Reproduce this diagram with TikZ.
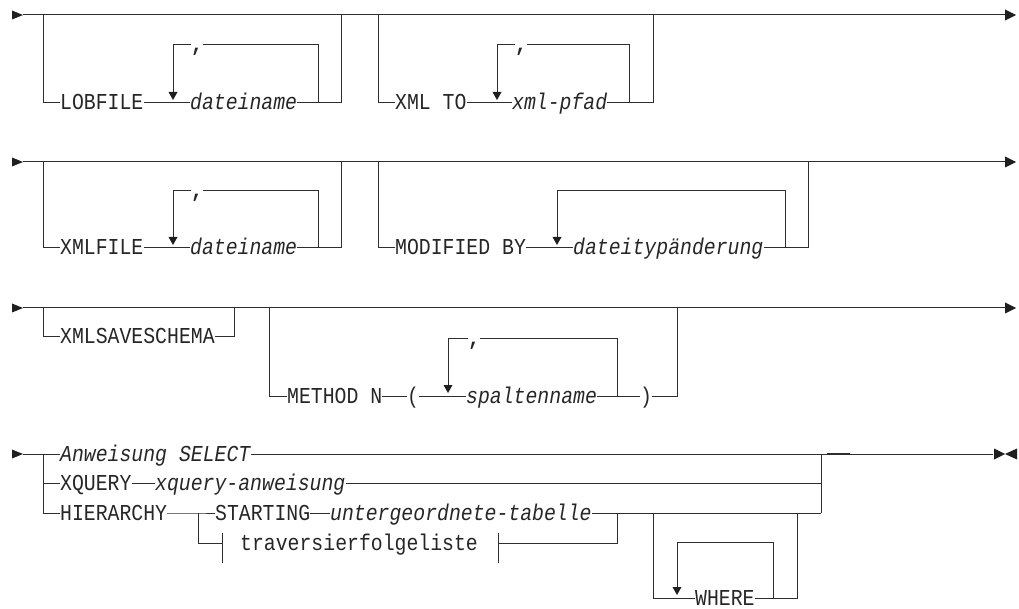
\documentclass[tikz,border=0pt]{standalone}
\usepackage{fontspec}
\setmonofont[FakeStretch=0.87]{Liberation Mono}
\newcommand\rrfont{\ttfamily\fontsize{22.76}{24}\selectfont}
\tikzset{
  rr/.style={line width=1pt, draw=black!82},
  thk/.style={line width=2pt, draw=black!82},
  tri/.style={fill=black!88},
  lbl/.style={inner sep=0pt, text height=14pt, text depth=0pt, anchor=west, text=black!85, font=\rrfont},
  var/.style={lbl, font=\rrfont\itshape},
  sepc/.style={lbl, anchor=center, font=\rrfont\bfseries},
}
% right-pointing start arrow, tip at (#1,#2)
\newcommand\rrstart[2]{\fill[tri] (#1,#2) -- ++(-11,-4.5) -- ++(0,9) -- cycle;}
% right-pointing end arrow
\newcommand\rrend[2]{\fill[tri] (#1,#2) -- ++(-11,-5.5) -- ++(0,11) -- cycle;}
% down-pointing repeat arrow, tip at (#1,#2)
\newcommand\rrdown[2]{\fill[tri] (#1,#2) -- ++(-4.5,-8) -- ++(9,0) -- cycle;}
\begin{document}
\begin{tikzpicture}[x=1pt,y=-1pt]
\useasboundingbox (0,0) rectangle (1019,609);

% ---------------- Row 1 ----------------
\rrstart{23}{15}
\draw[rr] (23,15) -- (1005,15);
\rrend{1016}{15}
\node[lbl] (lob) at (60,103) {LOBFILE};
\node[var] (dn1) at (190,103) {dateiname};
\node[sepc] (c1) at (197,45) {,};
\draw[rr] (43,15) |- (lob.west);
\draw[rr] (lob.east) -- (dn1.west);
\draw[rr] (dn1.east) -- (341,103) -- (341,15);
\draw[rr] (318,103) -- (318,45) -- (c1.east);
\draw[rr] (c1.west) -- (173,45) -- (173,92);
\rrdown{173}{100}
\node[lbl] (xt) at (395,103) {XML TO};
\node[var] (xp) at (512,103) {xml-pfad};
\node[sepc] (c2) at (521,45) {,};
\draw[rr] (378,15) |- (xt.west);
\draw[rr] (xt.east) -- (xp.west);
\draw[rr] (xp.east) -- (653,103) -- (653,15);
\draw[rr] (629,103) -- (629,45) -- (c2.east);
\draw[rr] (c2.west) -- (497,45) -- (497,92);
\rrdown{497}{100}

% ---------------- Row 2 ----------------
\rrstart{23}{162}
\draw[rr] (23,162) -- (1005,162);
\rrend{1016}{162}
\node[lbl] (xf) at (60,248) {XMLFILE};
\node[var] (dn2) at (190,248) {dateiname};
\node[sepc] (c3) at (197,191) {,};
\draw[rr] (43,162) |- (xf.west);
\draw[rr] (xf.east) -- (dn2.west);
\draw[rr] (dn2.east) -- (341,248) -- (341,162);
\draw[rr] (318,248) -- (318,191) -- (c3.east);
\draw[rr] (c3.west) -- (173,191) -- (173,237);
\rrdown{173}{245}
\node[lbl] (mb) at (395,248) {MODIFIED BY};
\node[var] (dt) at (573,248) {dateitypänderung};
\draw[rr] (378,162) |- (mb.west);
\draw[rr] (mb.east) -- (dt.west);
\draw[rr] (dt.east) -- (808,248) -- (808,162);
\draw[rr] (785,248) -- (785,191) -- (557,191) -- (557,237);
\rrdown{557}{245}

% ---------------- Row 3 ----------------
\rrstart{23}{308}
\draw[rr] (23,308) -- (1005,308);
\rrend{1016}{308}
\node[lbl] (xs) at (60,336) {XMLSAVESCHEMA};
\draw[rr] (43,308) |- (xs.west);
\draw[rr] (xs.east) -- (234,336) -- (234,308);
\node[lbl] (mn) at (287,396) {METHOD N};
\node[lbl] (lp) at (407,396) {(};
\node[var] (sp) at (466,396) {spaltenname};
\node[lbl] (rp) at (640,396) {)};
\node[sepc] (c4) at (474,338) {,};
\draw[rr] (269,308) |- (mn.west);
\draw[rr] (mn.east) -- (lp.west);
\draw[rr] (lp.east) -- (sp.west);
\draw[rr] (sp.east) -- (rp.west);
\draw[rr] (rp.east) -- (677,396) -- (677,308);
\draw[rr] (617,396) -- (617,338) -- (c4.east);
\draw[rr] (c4.west) -- (448,338) -- (448,385);
\rrdown{448}{393}

% ---------------- Row 4 ----------------
\rrstart{23}{454}
\node[var] (as) at (60,454) {Anweisung SELECT};
\draw[rr] (23,454) -- (as.west);
\draw[rr] (as.east) -- (993,454);
\draw[thk] (827,454) -- (850,454);
\rrend{1005}{454}
\fill[tri] (1005,454) -- ++(12,-5.5) -- ++(0,11) -- cycle;
\node[lbl] (xq) at (60,483) {XQUERY};
\node[var] (xa) at (155,483) {xquery-anweisung};
\node[lbl] (hi) at (60,513) {HIERARCHY};
\node[lbl] (st) at (215,513) {STARTING};
\node[var] (ut) at (330,513) {untergeordnete-tabelle};
\node[lbl] (tv) at (240,543) {traversierfolgeliste};
\node[lbl] (wh) at (695,598) {WHERE};
\draw[rr] (43,454) |- (hi.west);
\draw[rr] (43,483) -- (xq.west);
\draw[rr] (xq.east) -- (xa.west);
\draw[rr] (xa.east) -- (821,483);
\draw[rr] (821,454) -- (821,513);
\draw[rr] (hi.east) -- (198,513) -- (st.west);
\draw[rr] (st.east) -- (ut.west);
\draw[rr] (ut.east) -- (821,513);
\draw[rr] (198,513) |- (222,543);
\draw[rr] (222,533) -- (222,563);
\draw[rr] (498,533) -- (498,563);
\draw[rr] (498,543) -- (617,543) -- (617,513);
\draw[rr] (653,513) |- (wh.west);
\draw[rr] (wh.east) -- (797,598) -- (797,513);
\draw[rr] (773,598) -- (773,542) -- (677,542) -- (677,587);
\rrdown{677}{595}
\end{tikzpicture}
\end{document}
